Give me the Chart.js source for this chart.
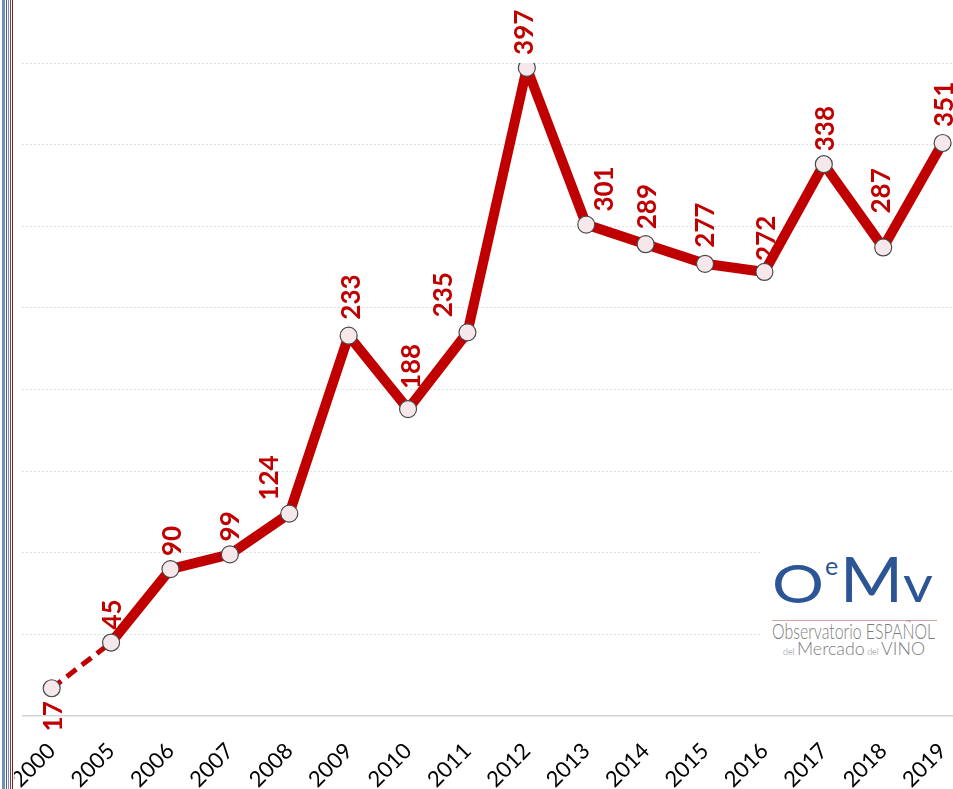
<!DOCTYPE html>
<html>
<head>
<meta charset="utf-8">
<script src="https://cdn.jsdelivr.net/npm/chart.js@4/dist/chart.umd.min.js"></script>
<style>
  html, body { margin: 0; padding: 0; background: #ffffff; overflow: hidden; }
  body { width: 953px; height: 789px; position: relative; }
  #wrap { position: absolute; left: 0; top: 0; width: 982px; height: 789px; }
  #edge {
    position: absolute; left: 0; top: 0; width: 14px; height: 789px; z-index: 3;
    background: linear-gradient(to right,
      #ffffff 0px, #ffffff 2px,
      #6f8fc0 2px, #6f8fc0 5px,
      #ffffff 5px, #ffffff 6px,
      #4c5d84 6px, #4c5d84 7px,
      #ffffff 7px, #ffffff 8px,
      #6f8fc0 8px, #6f8fc0 9px,
      #ffffff 9px, #ffffff 10px,
      #8c3a3a 10px, #8c3a3a 11px,
      #ffffff 11px, #ffffff 12px,
      #6b2b2b 12px, #6b2b2b 13px,
      #ffffff 13px, #ffffff 14px);
  }
  #logo {
    position: absolute; left: 762px; top: 540px; width: 191px; height: 140px;
    background: #ffffff; z-index: 2;
  }
  #logo span { position: absolute; line-height: 1; font-family: Lato, "Open Sans", sans-serif; white-space: nowrap; transform-origin: 0 0; }
  .mark { color: #2c5596; }
  .sub { color: #7d7d7d; font-weight: 300; }
  #rule { position: absolute; left: 10px; top: 80px; width: 165px; height: 1px; background: #d8a3a3; }
</style>
</head>
<body>
<div id="edge"></div>
<div id="wrap"><canvas id="chart"></canvas></div>
<div id="logo">
  <span class="mark" id="lO" style="left:10px; top:16px; font-size:53px;">O</span>
  <span class="mark" id="le" style="left:63px; top:13px; font-size:25px;">e</span>
  <span class="mark" id="lM" style="left:78px; top:8px; font-size:61px;">M</span>
  <span class="mark" id="lv" style="left:141px; top:18px; font-size:50px;">v</span>
  <div id="rule"></div>
  <span class="sub" id="l1" style="left:10px; top:80px; font-size:21px;">Observatorio ESPAÑOL</span>
  <span class="sub" id="l2" style="left:21px; top:99px; font-size:18px;"><span style="position:static;font-size:9px;">del </span>Mercado<span style="position:static;font-size:9px;"> del </span>VINO</span>
</div>
<script>
// Years on the category axis
const years = ['2000', '2005', '2006', '2007', '2008', '2009', '2010', '2011',
               '2012', '2013', '2014', '2015', '2016', '2017', '2018', '2019'];
// Yearly values
const values = [17, 45, 90, 99, 124, 233, 188, 235, 397, 301, 289, 277, 272, 338, 287, 351];
// Value axis ticks (gridlines only, labels hidden)
const yTicks = [0, 50, 100, 150, 200, 250, 300, 350, 400];

const RED = '#C00000';

// Fit the logo glyphs and captions to their box widths
function fitWidth(id, w) {
  const el = document.getElementById(id);
  const cur = el.getBoundingClientRect().width;
  if (cur > 0) el.style.transform = 'scaleX(' + (w / cur) + ')';
}
fitWidth('lO', 52);
fitWidth('lM', 63);
fitWidth('lv', 30);
fitWidth('l1', 163);
fitWidth('l2', 142);

// Vertical value labels next to every point
const valueLabels = {
  id: 'valueLabels',
  afterDatasetsDraw(chart, args, opts) {
    const ctx = chart.ctx;
    const meta = chart.getDatasetMeta(0);
    const ds = chart.data.datasets[0];
    ctx.save();
    ctx.font = opts.font;
    ctx.fillStyle = opts.color;
    ctx.textBaseline = 'middle';
    meta.data.forEach((pt, i) => {
      const n = opts.nudge[i] || {};
      const below = n.below === true;
      const r = 9 + opts.gap + (n.dy || 0);
      const x = pt.x + (n.dx || 0);
      const y = below ? pt.y + r : pt.y - r;
      ctx.save();
      ctx.translate(x, y);
      ctx.rotate(-Math.PI / 2);
      ctx.textAlign = below ? 'right' : 'left';
      ctx.fillText(String(ds.data[i]), 0, 0);
      ctx.restore();
    });
    ctx.restore();
  }
};

new Chart(document.getElementById('chart'), {
  type: 'line',
  data: {
    labels: years,
    datasets: [{
      data: values,
      borderColor: RED,
      borderWidth: 10,
      borderJoinStyle: 'round',
      borderCapStyle: 'butt',
      tension: 0,
      fill: false,
      pointRadius: 8.5,
      pointHoverRadius: 8.5,
      pointBackgroundColor: '#f6e8ea',
      pointBorderColor: '#4a4a4a',
      pointBorderWidth: 1.2,
      segment: {
        borderDash: c => c.p0DataIndex === 0 ? [12, 7] : undefined,
        borderWidth: c => c.p0DataIndex === 0 ? 5 : undefined
      }
    }]
  },
  options: {
    responsive: true,
    maintainAspectRatio: false,
    animation: false,
    events: [],
    layout: { padding: { left: 22, right: 0, top: 63, bottom: 0 } },
    plugins: {
      legend: { display: false },
      tooltip: { enabled: false },
      valueLabels: {
        font: '700 26px Lato',
        color: RED,
        gap: 4,
        nudge: {
          0: { below: true, dx: 2 },
          1: { dx: 2 },
          2: { dx: 2 },
          3: { dx: 1 },
          4: { dx: -20 },
          5: { dx: 3, dy: 3 },
          6: { dx: 4, dy: 7 },
          7: { dx: -24, dy: 2 },
          8: { dx: -2 },
          9: { dx: 18 },
          10: { dx: 2, dy: 2 },
          11: { dx: 1, dy: 3 },
          12: { dx: 2, dy: -2 },
          13: { dx: 2 },
          14: { dx: -2, dy: 21 },
          15: { dx: 2, dy: 3 }
        }
      }
    },
    scales: {
      x: {
        offset: true,
        grid: { display: false },
        border: { display: false },
        ticks: {
          minRotation: 45,
          maxRotation: 45,
          padding: 14,
          color: '#000000',
          font: { family: 'Lato', size: 22 }
        },
        afterFit(axis) { axis.height = 73; }
      },
      y: {
        min: 0,
        max: 400,
        afterBuildTicks(axis) { axis.ticks = yTicks.map(v => ({ value: v })); },
        ticks: { display: false },
        grid: {
          color: c => c.tick && c.tick.value === 0 ? '#d4d4d4' : '#e0e0e0',
          lineWidth: c => c.tick && c.tick.value === 0 ? 1.5 : 1,
          drawTicks: false
        },
        border: { display: false, dash: c => c.tick && c.tick.value === 0 ? [] : [2, 2] },
        afterFit(axis) { axis.width = 0; }
      }
    }
  },
  plugins: [valueLabels]
});
</script>
</body>
</html>
